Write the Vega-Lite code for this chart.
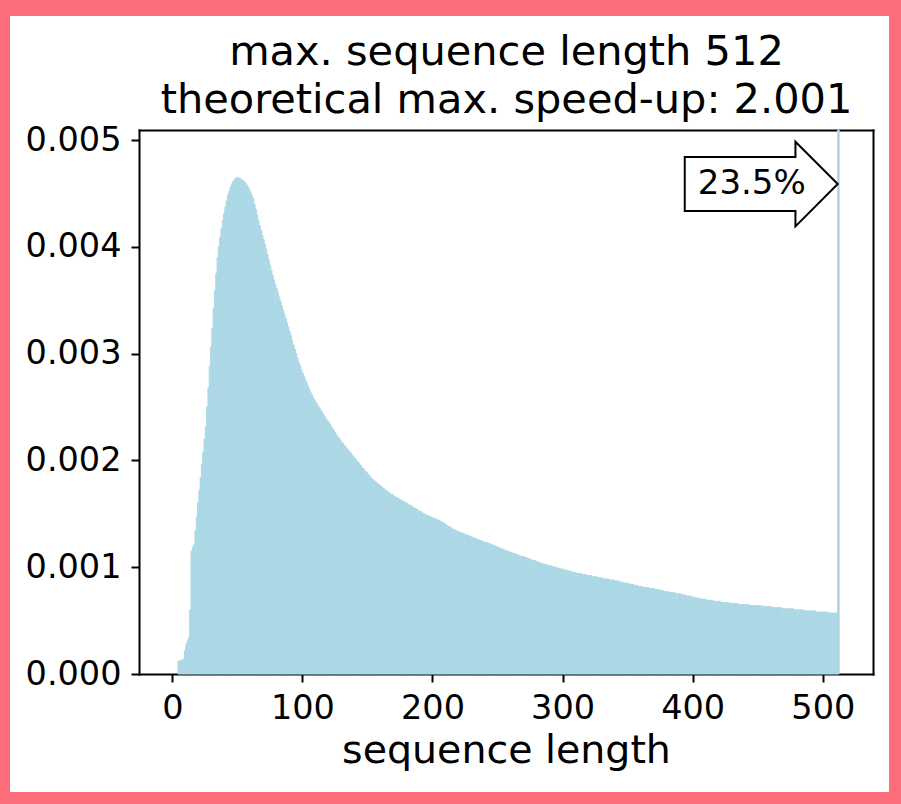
{
"$schema": "https://vega.github.io/schema/vega-lite/v6.json",
"width": 879, "height": 776,
"autosize": {"type": "none"},
"padding": {"left": 10, "top": 16, "right": 12, "bottom": 12},
"background": "#fe6d7a",
"config": {"view": {"fill": "white", "stroke": null}, "font": "DejaVu Sans"},
"datasets": {
"note": [{"length": 511.5, "density": 0.004588, "label": "23.5%"}],
"hist": [
{"length":5,"density":0.00012},{"length":6,"density":0.00012},{"length":7,"density":0.00013},{"length":8,"density":0.00013},{"length":9,"density":0.00014},
{"length":10,"density":0.00022},{"length":11,"density":0.00028},{"length":12,"density":0.00031},{"length":13,"density":0.00034},{"length":14,"density":0.00060},
{"length":15,"density":0.00115},{"length":16,"density":0.00119},{"length":17,"density":0.00121},{"length":18,"density":0.00134},{"length":19,"density":0.00147},
{"length":20,"density":0.00160},{"length":21,"density":0.00172},{"length":22,"density":0.00184},{"length":23,"density":0.00196},{"length":24,"density":0.00208},
{"length":25,"density":0.00220},{"length":26,"density":0.00232},{"length":27,"density":0.00250},{"length":28,"density":0.00268},{"length":29,"density":0.00288},
{"length":30,"density":0.00306},{"length":31,"density":0.00324},{"length":32,"density":0.00342},{"length":33,"density":0.00359},{"length":34,"density":0.00375},
{"length":35,"density":0.00390},{"length":36,"density":0.00400},{"length":37,"density":0.00409},{"length":38,"density":0.00417},{"length":39,"density":0.00425},
{"length":40,"density":0.00431},{"length":41,"density":0.00437},{"length":42,"density":0.00443},{"length":43,"density":0.00448},{"length":44,"density":0.00452},
{"length":45,"density":0.00456},{"length":46,"density":0.00459},{"length":47,"density":0.00461},{"length":48,"density":0.00463},{"length":49,"density":0.00464},
{"length":50,"density":0.00465},{"length":51,"density":0.00464},{"length":52,"density":0.00464},{"length":53,"density":0.00463},{"length":54,"density":0.00462},
{"length":55,"density":0.00461},{"length":56,"density":0.00460},{"length":57,"density":0.00458},{"length":58,"density":0.00456},{"length":59,"density":0.00454},
{"length":60,"density":0.00451},{"length":61,"density":0.00448},{"length":62,"density":0.00445},{"length":63,"density":0.00440},{"length":64,"density":0.00435},
{"length":65,"density":0.00430},{"length":66,"density":0.00425},{"length":67,"density":0.00420},{"length":68,"density":0.00416},{"length":69,"density":0.00411},
{"length":70,"density":0.00407},{"length":71,"density":0.00402},{"length":72,"density":0.00398},{"length":73,"density":0.00393},{"length":74,"density":0.00388},
{"length":75,"density":0.00383},{"length":76,"density":0.00378},{"length":77,"density":0.00373},{"length":78,"density":0.00369},{"length":79,"density":0.00365},
{"length":80,"density":0.00361},{"length":81,"density":0.00357},{"length":82,"density":0.00353},{"length":83,"density":0.00349},{"length":84,"density":0.00345},
{"length":85,"density":0.00341},{"length":86,"density":0.00337},{"length":87,"density":0.00333},{"length":88,"density":0.00329},{"length":89,"density":0.00325},
{"length":90,"density":0.00321},{"length":91,"density":0.00317},{"length":92,"density":0.00312},{"length":93,"density":0.00308},{"length":94,"density":0.00304},
{"length":95,"density":0.00300},{"length":96,"density":0.00296},{"length":97,"density":0.00292},{"length":98,"density":0.00289},{"length":99,"density":0.00285},
{"length":100,"density":0.00282},{"length":101,"density":0.00279},{"length":102,"density":0.00276},{"length":103,"density":0.00273},{"length":104,"density":0.00270},
{"length":105,"density":0.00267},{"length":106,"density":0.00264},{"length":107,"density":0.00262},{"length":108,"density":0.00259},{"length":109,"density":0.00257},
{"length":110,"density":0.00255},{"length":111,"density":0.00253},{"length":112,"density":0.00251},{"length":113,"density":0.00249},{"length":114,"density":0.00247},
{"length":115,"density":0.00245},{"length":116,"density":0.00243},{"length":117,"density":0.00241},{"length":118,"density":0.00239},{"length":119,"density":0.00237},
{"length":120,"density":0.00236},{"length":121,"density":0.00234},{"length":122,"density":0.00232},{"length":123,"density":0.00230},{"length":124,"density":0.00228},
{"length":125,"density":0.00226},{"length":126,"density":0.00224},{"length":127,"density":0.00222},{"length":128,"density":0.00221},{"length":129,"density":0.00219},
{"length":130,"density":0.00217},{"length":131,"density":0.00216},{"length":132,"density":0.00214},{"length":133,"density":0.00213},{"length":134,"density":0.00211},
{"length":135,"density":0.00210},{"length":136,"density":0.00208},{"length":137,"density":0.00207},{"length":138,"density":0.00205},{"length":139,"density":0.00204},
{"length":140,"density":0.00202},{"length":141,"density":0.00201},{"length":142,"density":0.00199},{"length":143,"density":0.00198},{"length":144,"density":0.00196},
{"length":145,"density":0.00195},{"length":146,"density":0.00193},{"length":147,"density":0.00192},{"length":148,"density":0.00190},{"length":149,"density":0.00189},
{"length":150,"density":0.00188},{"length":151,"density":0.00186},{"length":152,"density":0.00185},{"length":153,"density":0.00183},{"length":154,"density":0.00182},
{"length":155,"density":0.00181},{"length":156,"density":0.00180},{"length":157,"density":0.00179},{"length":158,"density":0.00178},{"length":159,"density":0.00177},
{"length":160,"density":0.00176},{"length":161,"density":0.00175},{"length":162,"density":0.00174},{"length":163,"density":0.00173},{"length":164,"density":0.00172},
{"length":165,"density":0.00171},{"length":166,"density":0.00170},{"length":167,"density":0.00169},{"length":168,"density":0.00168},{"length":169,"density":0.00168},
{"length":170,"density":0.00167},{"length":171,"density":0.00166},{"length":172,"density":0.00165},{"length":173,"density":0.00165},{"length":174,"density":0.00164},
{"length":175,"density":0.00163},{"length":176,"density":0.00163},{"length":177,"density":0.00162},{"length":178,"density":0.00161},{"length":179,"density":0.00161},
{"length":180,"density":0.00160},{"length":181,"density":0.00159},{"length":182,"density":0.00158},{"length":183,"density":0.00158},{"length":184,"density":0.00157},
{"length":185,"density":0.00156},{"length":186,"density":0.00155},{"length":187,"density":0.00155},{"length":188,"density":0.00154},{"length":189,"density":0.00153},
{"length":190,"density":0.00152},{"length":191,"density":0.00152},{"length":192,"density":0.00151},{"length":193,"density":0.00150},{"length":194,"density":0.00149},
{"length":195,"density":0.00149},{"length":196,"density":0.00148},{"length":197,"density":0.00148},{"length":198,"density":0.00147},{"length":199,"density":0.00147},
{"length":200,"density":0.00146},{"length":201,"density":0.00146},{"length":202,"density":0.00145},{"length":203,"density":0.00145},{"length":204,"density":0.00144},
{"length":205,"density":0.00144},{"length":206,"density":0.00143},{"length":207,"density":0.00142},{"length":208,"density":0.00142},{"length":209,"density":0.00141},
{"length":210,"density":0.00140},{"length":211,"density":0.00139},{"length":212,"density":0.00138},{"length":213,"density":0.00138},{"length":214,"density":0.00137},
{"length":215,"density":0.00136},{"length":216,"density":0.00135},{"length":217,"density":0.00135},{"length":218,"density":0.00134},{"length":219,"density":0.00134},
{"length":220,"density":0.00133},{"length":221,"density":0.00133},{"length":222,"density":0.00132},{"length":223,"density":0.00132},{"length":224,"density":0.00131},
{"length":225,"density":0.00131},{"length":226,"density":0.00130},{"length":227,"density":0.00130},{"length":228,"density":0.00129},{"length":229,"density":0.00129},
{"length":230,"density":0.00128},{"length":231,"density":0.00128},{"length":232,"density":0.00127},{"length":233,"density":0.00127},{"length":234,"density":0.00126},
{"length":235,"density":0.00126},{"length":236,"density":0.00125},{"length":237,"density":0.00125},{"length":238,"density":0.00124},{"length":239,"density":0.00124},
{"length":240,"density":0.00123},{"length":241,"density":0.00123},{"length":242,"density":0.00123},{"length":243,"density":0.00122},{"length":244,"density":0.00122},
{"length":245,"density":0.00121},{"length":246,"density":0.00121},{"length":247,"density":0.00120},{"length":248,"density":0.00120},{"length":249,"density":0.00119},
{"length":250,"density":0.00119},{"length":251,"density":0.00118},{"length":252,"density":0.00118},{"length":253,"density":0.00117},{"length":254,"density":0.00117},
{"length":255,"density":0.00116},{"length":256,"density":0.00116},{"length":257,"density":0.00115},{"length":258,"density":0.00115},{"length":259,"density":0.00114},
{"length":260,"density":0.00114},{"length":261,"density":0.00113},{"length":262,"density":0.00113},{"length":263,"density":0.00113},{"length":264,"density":0.00112},
{"length":265,"density":0.00112},{"length":266,"density":0.00111},{"length":267,"density":0.00111},{"length":268,"density":0.00110},{"length":269,"density":0.00110},
{"length":270,"density":0.00110},{"length":271,"density":0.00109},{"length":272,"density":0.00109},{"length":273,"density":0.00108},{"length":274,"density":0.00108},
{"length":275,"density":0.00107},{"length":276,"density":0.00107},{"length":277,"density":0.00106},{"length":278,"density":0.00106},{"length":279,"density":0.00106},
{"length":280,"density":0.00105},{"length":281,"density":0.00105},{"length":282,"density":0.00104},{"length":283,"density":0.00104},{"length":284,"density":0.00103},
{"length":285,"density":0.00103},{"length":286,"density":0.00103},{"length":287,"density":0.00102},{"length":288,"density":0.00102},{"length":289,"density":0.00102},
{"length":290,"density":0.00101},{"length":291,"density":0.00101},{"length":292,"density":0.00101},{"length":293,"density":0.00100},{"length":294,"density":0.00100},
{"length":295,"density":0.00100},{"length":296,"density":0.00099},{"length":297,"density":0.00099},{"length":298,"density":0.00099},{"length":299,"density":0.00098},
{"length":300,"density":0.00098},{"length":301,"density":0.00098},{"length":302,"density":0.00097},{"length":303,"density":0.00097},{"length":304,"density":0.00097},
{"length":305,"density":0.00096},{"length":306,"density":0.00096},{"length":307,"density":0.00096},{"length":308,"density":0.00095},{"length":309,"density":0.00095},
{"length":310,"density":0.00095},{"length":311,"density":0.00094},{"length":312,"density":0.00094},{"length":313,"density":0.00094},{"length":314,"density":0.00094},
{"length":315,"density":0.00093},{"length":316,"density":0.00093},{"length":317,"density":0.00093},{"length":318,"density":0.00093},{"length":319,"density":0.00092},
{"length":320,"density":0.00092},{"length":321,"density":0.00092},{"length":322,"density":0.00092},{"length":323,"density":0.00091},{"length":324,"density":0.00091},
{"length":325,"density":0.00091},{"length":326,"density":0.00091},{"length":327,"density":0.00090},{"length":328,"density":0.00090},{"length":329,"density":0.00090},
{"length":330,"density":0.00090},{"length":331,"density":0.00089},{"length":332,"density":0.00089},{"length":333,"density":0.00089},{"length":334,"density":0.00089},
{"length":335,"density":0.00089},{"length":336,"density":0.00088},{"length":337,"density":0.00088},{"length":338,"density":0.00088},{"length":339,"density":0.00088},
{"length":340,"density":0.00087},{"length":341,"density":0.00087},{"length":342,"density":0.00087},{"length":343,"density":0.00087},{"length":344,"density":0.00086},
{"length":345,"density":0.00086},{"length":346,"density":0.00086},{"length":347,"density":0.00085},{"length":348,"density":0.00085},{"length":349,"density":0.00085},
{"length":350,"density":0.00085},{"length":351,"density":0.00084},{"length":352,"density":0.00084},{"length":353,"density":0.00084},{"length":354,"density":0.00084},
{"length":355,"density":0.00083},{"length":356,"density":0.00083},{"length":357,"density":0.00083},{"length":358,"density":0.00082},{"length":359,"density":0.00082},
{"length":360,"density":0.00082},{"length":361,"density":0.00082},{"length":362,"density":0.00081},{"length":363,"density":0.00081},{"length":364,"density":0.00081},
{"length":365,"density":0.00081},{"length":366,"density":0.00081},{"length":367,"density":0.00080},{"length":368,"density":0.00080},{"length":369,"density":0.00080},
{"length":370,"density":0.00080},{"length":371,"density":0.00079},{"length":372,"density":0.00079},{"length":373,"density":0.00079},{"length":374,"density":0.00079},
{"length":375,"density":0.00078},{"length":376,"density":0.00078},{"length":377,"density":0.00078},{"length":378,"density":0.00077},{"length":379,"density":0.00077},
{"length":380,"density":0.00077},{"length":381,"density":0.00077},{"length":382,"density":0.00076},{"length":383,"density":0.00076},{"length":384,"density":0.00076},
{"length":385,"density":0.00076},{"length":386,"density":0.00076},{"length":387,"density":0.00075},{"length":388,"density":0.00075},{"length":389,"density":0.00075},
{"length":390,"density":0.00075},{"length":391,"density":0.00075},{"length":392,"density":0.00074},{"length":393,"density":0.00074},{"length":394,"density":0.00074},
{"length":395,"density":0.00073},{"length":396,"density":0.00073},{"length":397,"density":0.00073},{"length":398,"density":0.00073},{"length":399,"density":0.00072},
{"length":400,"density":0.00072},{"length":401,"density":0.00072},{"length":402,"density":0.00071},{"length":403,"density":0.00071},{"length":404,"density":0.00071},
{"length":405,"density":0.00071},{"length":406,"density":0.00070},{"length":407,"density":0.00070},{"length":408,"density":0.00070},{"length":409,"density":0.00070},
{"length":410,"density":0.00070},{"length":411,"density":0.00069},{"length":412,"density":0.00069},{"length":413,"density":0.00069},{"length":414,"density":0.00069},
{"length":415,"density":0.00069},{"length":416,"density":0.00068},{"length":417,"density":0.00068},{"length":418,"density":0.00068},{"length":419,"density":0.00068},
{"length":420,"density":0.00068},{"length":421,"density":0.00068},{"length":422,"density":0.00067},{"length":423,"density":0.00067},{"length":424,"density":0.00067},
{"length":425,"density":0.00067},{"length":426,"density":0.00067},{"length":427,"density":0.00067},{"length":428,"density":0.00066},{"length":429,"density":0.00066},
{"length":430,"density":0.00066},{"length":431,"density":0.00066},{"length":432,"density":0.00066},{"length":433,"density":0.00066},{"length":434,"density":0.00066},
{"length":435,"density":0.00065},{"length":436,"density":0.00065},{"length":437,"density":0.00065},{"length":438,"density":0.00065},{"length":439,"density":0.00065},
{"length":440,"density":0.00065},{"length":441,"density":0.00065},{"length":442,"density":0.00064},{"length":443,"density":0.00065},{"length":444,"density":0.00064},
{"length":445,"density":0.00064},{"length":446,"density":0.00064},{"length":447,"density":0.00064},{"length":448,"density":0.00064},{"length":449,"density":0.00064},
{"length":450,"density":0.00064},{"length":451,"density":0.00064},{"length":452,"density":0.00063},{"length":453,"density":0.00064},{"length":454,"density":0.00063},
{"length":455,"density":0.00063},{"length":456,"density":0.00063},{"length":457,"density":0.00063},{"length":458,"density":0.00063},{"length":459,"density":0.00063},
{"length":460,"density":0.00063},{"length":461,"density":0.00062},{"length":462,"density":0.00062},{"length":463,"density":0.00062},{"length":464,"density":0.00062},
{"length":465,"density":0.00062},{"length":466,"density":0.00062},{"length":467,"density":0.00062},{"length":468,"density":0.00062},{"length":469,"density":0.00061},
{"length":470,"density":0.00061},{"length":471,"density":0.00061},{"length":472,"density":0.00061},{"length":473,"density":0.00061},{"length":474,"density":0.00061},
{"length":475,"density":0.00061},{"length":476,"density":0.00061},{"length":477,"density":0.00061},{"length":478,"density":0.00060},{"length":479,"density":0.00060},
{"length":480,"density":0.00060},{"length":481,"density":0.00060},{"length":482,"density":0.00060},{"length":483,"density":0.00060},{"length":484,"density":0.00060},
{"length":485,"density":0.00060},{"length":486,"density":0.00059},{"length":487,"density":0.00059},{"length":488,"density":0.00059},{"length":489,"density":0.00059},
{"length":490,"density":0.00059},{"length":491,"density":0.00059},{"length":492,"density":0.00059},{"length":493,"density":0.00059},{"length":494,"density":0.00059},
{"length":495,"density":0.00058},{"length":496,"density":0.00058},{"length":497,"density":0.00058},{"length":498,"density":0.00058},{"length":499,"density":0.00058},
{"length":500,"density":0.00058},{"length":501,"density":0.00058},{"length":502,"density":0.00058},{"length":503,"density":0.00058},{"length":504,"density":0.00057},
{"length":505,"density":0.00057},{"length":506,"density":0.00057},{"length":507,"density":0.00057},{"length":508,"density":0.00057},{"length":509,"density":0.00057},
{"length":510,"density":0.00057},{"length":511,"density":0.00057},{"length":512,"density":0.235}
]
},
"resolve": {"axis": {"x": "independent", "y": "independent"}},
"layer": [
{
"data": {"name": "hist"},
"mark": {"type": "bar", "width": 1.6, "color": "#add8e6", "stroke": "#add8e6", "strokeWidth": 1},
"encoding": {
"x": {"field": "length", "type": "quantitative",
"scale": {"domain": [-25.6, 538.6], "range": [129, 863], "nice": false, "zero": false, "padding": 0},
"axis": {"orient": "bottom", "offset": -118, "values": [0, 100, 200, 300, 400, 500], "format": "d", "grid": false,
"domainColor": "black", "domainWidth": 2, "domainCap": "square", "tickColor": "black", "tickWidth": 2, "tickSize": 8,
"labelFontSize": 33.5, "labelColor": "black", "labelPadding": 10, "labelFlush": false,
"title": "sequence length", "titleFontSize": 39.5, "titleFontWeight": "normal", "titleColor": "black", "titlePadding": 7}},
"y": {"field": "density", "type": "quantitative",
"scale": {"domain": [0, 0.005094], "range": [658, 114], "nice": false, "zero": true, "clamp": true, "padding": 0},
"axis": {"orient": "left", "offset": -129, "values": [0, 0.001, 0.002, 0.003, 0.004, 0.005], "format": ".3f", "grid": false,
"domainColor": "black", "domainWidth": 2, "domainCap": "square", "tickColor": "black", "tickWidth": 2, "tickSize": 8,
"labelFontSize": 33.5, "labelColor": "black", "labelPadding": 10, "labelFlush": false, "title": null}}
}
},
{
"data": {"name": "note"},
"mark": {"type": "point", "shape": "M0,0L-0.553,-0.553L-0.553,-0.353L-2,-0.353L-2,0.353L-0.553,0.353L-0.553,0.553Z",
"size": 23409, "filled": true, "color": "white", "fill": "white", "stroke": "black", "strokeWidth": 2, "opacity": 1},
"encoding": {
"x": {"field": "length", "type": "quantitative",
"scale": {"domain": [-25.6, 538.6], "range": [129, 863], "nice": false, "zero": false, "padding": 0},
"axis": {"orient": "top", "offset": -114, "ticks": false, "labels": false, "grid": false,
"domainColor": "black", "domainWidth": 2, "domainCap": "square",
"title": ["max. sequence length 512", "theoretical max. speed-up: 2.001"], "titleFontSize": 41.5, "titleFontWeight": "normal",
"titleColor": "black", "titleLineHeight": 48, "titlePadding": 9}},
"y": {"field": "density", "type": "quantitative",
"scale": {"domain": [0, 0.005094], "range": [658, 114], "nice": false, "zero": true, "clamp": true, "padding": 0},
"axis": {"orient": "right", "offset": -16, "ticks": false, "labels": false, "grid": false,
"domainColor": "black", "domainWidth": 2, "domainCap": "square", "title": null}}
}
},
{
"data": {"name": "note"},
"mark": {"type": "text", "dx": -86, "fontSize": 34, "align": "center", "baseline": "middle", "color": "black"},
"encoding": {
"x": {"field": "length", "type": "quantitative",
"scale": {"domain": [-25.6, 538.6], "range": [129, 863], "nice": false, "zero": false, "padding": 0}, "axis": null},
"y": {"field": "density", "type": "quantitative",
"scale": {"domain": [0, 0.005094], "range": [658, 114], "nice": false, "zero": true, "clamp": true, "padding": 0}, "axis": null},
"text": {"field": "label"}
}
}
]
}
